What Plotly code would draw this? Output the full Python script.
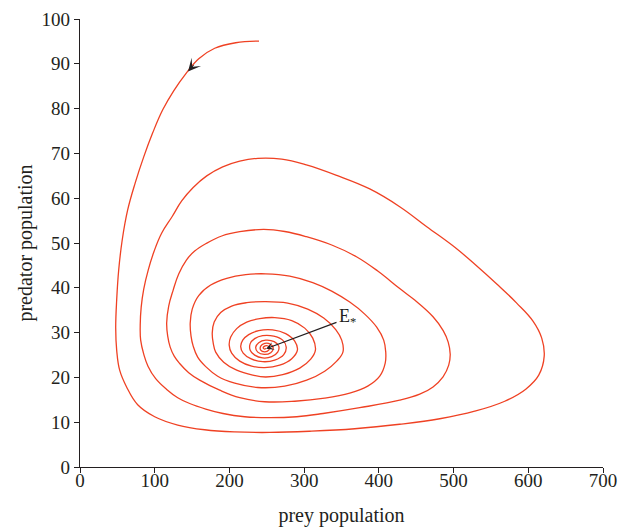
import plotly.graph_objects as go

# Trajectory (prey, predator), in drawing order
prey = [239.6, 208.4, 180.3, 158.9, 141.5, 125.4, 110.7, 97.3, 85.3, 73.9, 63.8, 56.5, 51.8, 49.1, 47.8,
        49.1, 53.1, 62.5, 77.2, 100.0, 130.8, 166.9, 207.1, 253.9, 307.5, 367.7, 427.9, 481.5, 528.3,
        568.5, 596.6, 614.0, 621.3, 618.0, 606.3, 584.5, 557.8, 529.6, 502.9, 464.1, 427.9, 387.8, 343.6,
        303.0, 270.0, 237.9, 213.8, 191.0, 169.6, 151.5, 136.1, 123.4, 109.4, 99.3, 91.3, 85.3, 81.9,
        80.6, 81.2, 85.3, 91.0, 101.3, 115.6, 130.8, 146.8, 168.3, 191.4, 220.4, 253.9, 290.1, 325.3,
        374.4, 427.9, 454.7, 472.5, 485.9, 493.5, 495.5, 492.8, 486.1, 472.5, 448.0, 427.9, 398.5, 370.0,
        336.9, 303.0, 274.0, 245.9, 213.8, 189.7, 169.2, 153.5, 142.4, 132.1, 124.7, 118.7, 116.0, 117.4,
        120.7, 126.1, 133.4, 145.5, 160.2, 187.0, 213.8, 247.2, 287.4, 327.5, 361.0, 385.1, 401.2, 408.5,
        409.2, 406.5, 397.1, 381.1, 361.0, 336.9, 311.5, 280.7, 248.6, 221.8, 196.4, 174.9, 158.9, 150.2,
        147.5, 148.6, 151.5, 157.5, 168.3, 184.3, 207.1, 237.9, 274.0, 303.4, 327.5, 343.6, 352.0, 350.3,
        342.3, 326.2, 304.8, 278.0, 247.2, 223.1, 203.0, 188.3, 179.6, 177.0, 178.3, 181.6, 192.3, 209.7,
        231.2, 248.6, 271.3, 294.1, 308.8, 315.1, 311.5, 300.8, 283.4, 260.6, 240.5, 223.1, 209.7, 201.7,
        199.7, 203.0, 213.8, 229.8, 247.2, 267.3, 283.4, 291.0, 287.4, 275.3, 257.9, 239.2, 225.8, 217.8,
        215.1, 218.4, 228.5, 244.5, 260.6, 272.7, 276.0, 271.3, 259.3, 244.5, 233.8, 227.8, 227.8, 233.8,
        244.5, 256.6, 264.6, 266.0, 259.9, 248.6, 239.2, 235.2, 237.9, 246.6, 255.3, 258.6, 254.6, 247.2,
        241.9, 241.9, 247.2, 252.6, 253.2, 249.2, 245.2, 247.2, 248.6]
predator = [95.08, 94.70, 93.47, 91.13, 87.77, 83.97, 79.73, 74.59, 69.22, 63.41, 57.38, 50.67, 43.96,
            37.26, 31.00, 26.08, 21.61, 17.81, 13.90, 11.22, 9.37, 8.31, 7.82, 7.71, 7.98, 8.54, 9.54,
            10.77, 12.45, 14.68, 17.37, 20.50, 24.74, 28.77, 32.57, 36.59, 40.84, 45.08, 48.88, 53.64,
            58.11, 62.07, 65.09, 67.43, 68.73, 68.91, 68.26, 66.99, 64.98, 62.40, 59.39, 55.92, 52.23,
            48.21, 43.96, 39.72, 35.69, 31.67, 28.32, 25.19, 22.51, 19.71, 17.37, 15.47, 14.17, 12.94,
            11.94, 11.22, 11.00, 11.22, 11.94, 13.23, 14.91, 16.25, 17.88, 20.12, 22.73, 25.19, 27.87,
            30.44, 33.53, 37.26, 39.83, 43.74, 46.94, 49.55, 51.41, 52.57, 53.02, 52.52, 51.56, 49.93,
            48.21, 46.20, 43.07, 39.49, 35.92, 32.12, 29.21, 26.75, 24.74, 23.11, 21.05, 19.38, 17.14,
            15.47, 14.57, 14.68, 15.36, 16.47, 18.04, 20.27, 23.18, 25.70, 28.32, 31.22, 34.13, 36.81,
            39.27, 41.17, 42.62, 43.12, 42.94, 42.11, 40.61, 38.27, 35.25, 32.12, 29.21, 26.98, 24.52,
            22.40, 20.27, 18.71, 17.75, 18.04, 19.38, 21.39, 23.63, 25.70, 28.32, 30.67, 33.24, 35.25,
            36.59, 36.92, 36.68, 35.92, 34.47, 32.34, 29.88, 27.65, 25.64, 23.40, 21.61, 20.50, 20.09,
            20.61, 22.06, 24.07, 26.08, 28.77, 31.00, 32.68, 33.35, 33.12, 32.34, 30.89, 28.99, 27.20,
            25.41, 23.63, 22.51, 22.17, 22.73, 24.18, 26.08, 28.10, 29.77, 30.60, 30.44, 29.55, 28.32,
            26.87, 25.41, 24.18, 23.51, 23.85, 25.08, 26.75, 28.32, 29.21, 29.32, 28.65, 27.54, 26.08,
            24.97, 24.34, 24.63, 25.64, 26.98, 27.98, 28.32, 27.76, 26.75, 25.64, 25.12, 25.52, 26.53,
            27.42, 27.58, 26.98, 26.08, 25.70, 26.08, 26.75, 27.09, 26.64, 26.31, 26.53]

x_ticks = [0, 100, 200, 300, 400, 500, 600, 700]
y_ticks = [0, 10, 20, 30, 40, 50, 60, 70, 80, 90, 100]

equilibrium = (249, 26.4)
label_pos = (345.3, 32.4)
flow_arrow = (144.6, 88.3)

FONT = "Liberation Serif, Times New Roman, serif"
INK = "#231f20"

fig = go.Figure()
fig.add_trace(go.Scatter(x=prey, y=predator, mode="lines",
                         line=dict(color="#ef4123", width=1.3, shape="spline", smoothing=1.15),
                         hoverinfo="skip", showlegend=False))

fig.add_annotation(x=flow_arrow[0], y=flow_arrow[1], ax=7, ay=-8, xref="x", yref="y",
                   text="", showarrow=True, arrowhead=3, arrowsize=2.1, arrowwidth=1.0,
                   arrowcolor=INK)
fig.add_annotation(x=equilibrium[0], y=equilibrium[1], ax=label_pos[0], ay=label_pos[1],
                   axref="x", ayref="y", xref="x", yref="y", text="", showarrow=True,
                   arrowhead=3, arrowsize=1.1, arrowwidth=1.2, arrowcolor=INK)
fig.add_annotation(x=label_pos[0] - 1, y=label_pos[1] + 1.0, xref="x", yref="y",
                   text="E<sub>*</sub>", showarrow=False, xanchor="left", yanchor="middle",
                   font=dict(family=FONT, size=18, color=INK))

axis_common = dict(showline=True, linecolor=INK, linewidth=1.2, ticks="outside", ticklen=5,
                   tickwidth=1.2, tickcolor=INK, showgrid=False, zeroline=False, mirror=False,
                   tickfont=dict(family=FONT, size=19, color=INK))
fig.update_xaxes(range=[0, 700], tickvals=x_ticks, ticklabelstandoff=-9, **axis_common,
                 title=dict(text="prey population", standoff=18,
                            font=dict(family=FONT, size=20, color=INK)))
fig.update_yaxes(range=[0, 100], tickvals=y_ticks, **axis_common,
                 title=dict(text="predator population", standoff=3,
                            font=dict(family=FONT, size=20, color=INK)))

fig.update_layout(width=620, height=531, margin=dict(l=80, r=17, t=19, b=64, autoexpand=False),
                  font=dict(family=FONT, color=INK),
                  plot_bgcolor="white", paper_bgcolor="white")
fig.write_html("out.html")
